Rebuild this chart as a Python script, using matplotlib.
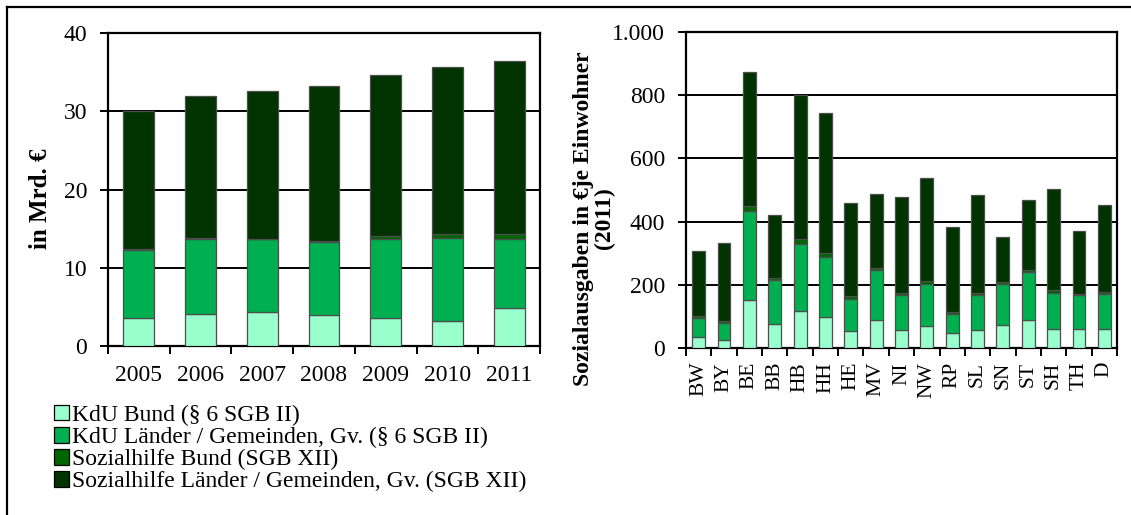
import numpy as np
import matplotlib
matplotlib.use("Agg")
import matplotlib.pyplot as plt
from matplotlib.patches import Patch
from matplotlib.lines import Line2D

plt.rcParams['font.family'] = ['Liberation Serif', 'DejaVu Serif']

# Daten links: Mrd. Euro je Jahr
years = ['2005', '2006', '2007', '2008', '2009', '2010', '2011']
kdu_bund = [3.6, 4.05, 4.35, 3.9, 3.55, 3.25, 4.9]
kdu_laender = [8.7, 9.65, 9.3, 9.45, 10.15, 10.6, 8.75]
sozh_bund = [0.05, 0.05, 0.05, 0.05, 0.4, 0.5, 0.6]
sozh_laender = [17.65, 18.15, 18.9, 19.8, 20.5, 21.25, 22.15]

# Daten rechts: Euro je Einwohner 2011
states = ['BW', 'BY', 'BE', 'BB', 'HB', 'HH', 'HE', 'MV', 'NI', 'NW',
          'RP', 'SL', 'SN', 'ST', 'SH', 'TH', 'D']
st_kdu_bund = [35, 26, 153, 77, 116, 99, 55, 89, 57, 71, 49, 57, 74, 88, 61, 59, 61]
st_kdu_laender = [60, 54, 282, 138, 213, 189, 99, 159, 110, 132, 60, 110, 129, 153, 113, 108, 110]
st_sozh_bund = [5, 4, 13, 7, 16, 13, 11, 6, 7, 8, 5, 6, 6, 7, 10, 4, 7]
st_sozh_laender = [206, 248, 425, 198, 457, 444, 295, 232, 305, 326, 268, 311, 142, 219, 320, 199, 276]

right_ticks = [0, 200, 400, 600, 800, 1000]
right_ticklabels = ['0', '200', '400', '600', '800', '1.000']

labels = ['KdU Bund (§ 6 SGB II)',
          'KdU Länder / Gemeinden, Gv. (§ 6 SGB II)',
          'Sozialhilfe Bund (SGB XII)',
          'Sozialhilfe Länder / Gemeinden, Gv. (SGB XII)']
colors = ['#99FFCC', '#00B050', '#006600', '#003300']

W, H = 1131, 515
fig = plt.figure(figsize=(W / 100, H / 100), dpi=100)


def stacked(ax, series, width):
    x = np.arange(len(series[0]))
    bottom = np.zeros(len(x))
    for vals, col in zip(series, colors):
        ax.bar(x, vals, width, bottom=bottom, color=col,
               edgecolor='#4d4d4d', linewidth=0.9, zorder=3)
        bottom += np.array(vals)
    ax.set_xlim(-0.5, len(x) - 0.5)
    ax.set_xticks(np.arange(len(x) + 1) - 0.5)
    ax.set_xticklabels([])
    ax.set_xticks(x, minor=True)
    ax.tick_params(axis='x', which='major', direction='out', length=6, width=1.4)
    ax.tick_params(axis='x', which='minor', length=0)
    ax.tick_params(axis='y', direction='out', length=6, width=1.4,
                   labelsize=17, pad=9)
    ax.yaxis.grid(True, color='black', linewidth=1.4, zorder=0)
    ax.set_axisbelow(True)
    for sp in ax.spines.values():
        sp.set_linewidth(1.6)
        sp.set_color('black')


# linkes Diagramm
ax1 = fig.add_axes([108 / W, 1 - 346 / H, 432 / W, 313 / H])
stacked(ax1, [kdu_bund, kdu_laender, sozh_bund, sozh_laender], 0.5)
ax1.set_xticklabels(years, minor=True, fontsize=17)
ax1.tick_params(axis='x', which='minor', pad=14)
ax1.set_ylim(0, 40)
ax1.set_yticks([0, 10, 20, 30, 40])
ax1.set_ylabel('in Mrd. €', fontsize=18, fontweight='bold')
ax1.yaxis.set_label_coords(-0.13, 0.47)

# rechtes Diagramm
ax2 = fig.add_axes([686 / W, 1 - 348 / H, 431 / W, 316 / H])
stacked(ax2, [st_kdu_bund, st_kdu_laender, st_sozh_bund, st_sozh_laender], 0.51)
ax2.set_xticklabels(states, minor=True, rotation=90, fontsize=15.5)
ax2.tick_params(axis='x', which='minor', pad=10)
ax2.set_ylim(0, 1000)
ax2.set_yticks(right_ticks)
ax2.set_yticklabels(right_ticklabels)
ax2.set_ylabel('Sozialausgaben in €je Einwohner\n(2011)', fontsize=17,
               fontweight='bold', linespacing=1.0)
ax2.yaxis.set_label_coords(-0.165, 0.41)

# Legende
handles = [Patch(facecolor=c, edgecolor='black', linewidth=0.9) for c in colors]
fig.legend(handles, labels, loc='upper left', bbox_to_anchor=(54 / W, 1 - 405 / H),
           frameon=False, fontsize=17, handlelength=0.62, handleheight=0.62,
           handletextpad=0.15, labelspacing=0.04, borderaxespad=0, borderpad=0)

# Rahmen (oben und links)
fig.add_artist(Line2D([7 / W, 1], [1 - 7 / H, 1 - 7 / H],
                      transform=fig.transFigure, color='black', linewidth=1.6))
fig.add_artist(Line2D([7 / W, 7 / W], [0, 1 - 7 / H],
                      transform=fig.transFigure, color='black', linewidth=1.6))

fig.savefig('out.png', dpi=100)
